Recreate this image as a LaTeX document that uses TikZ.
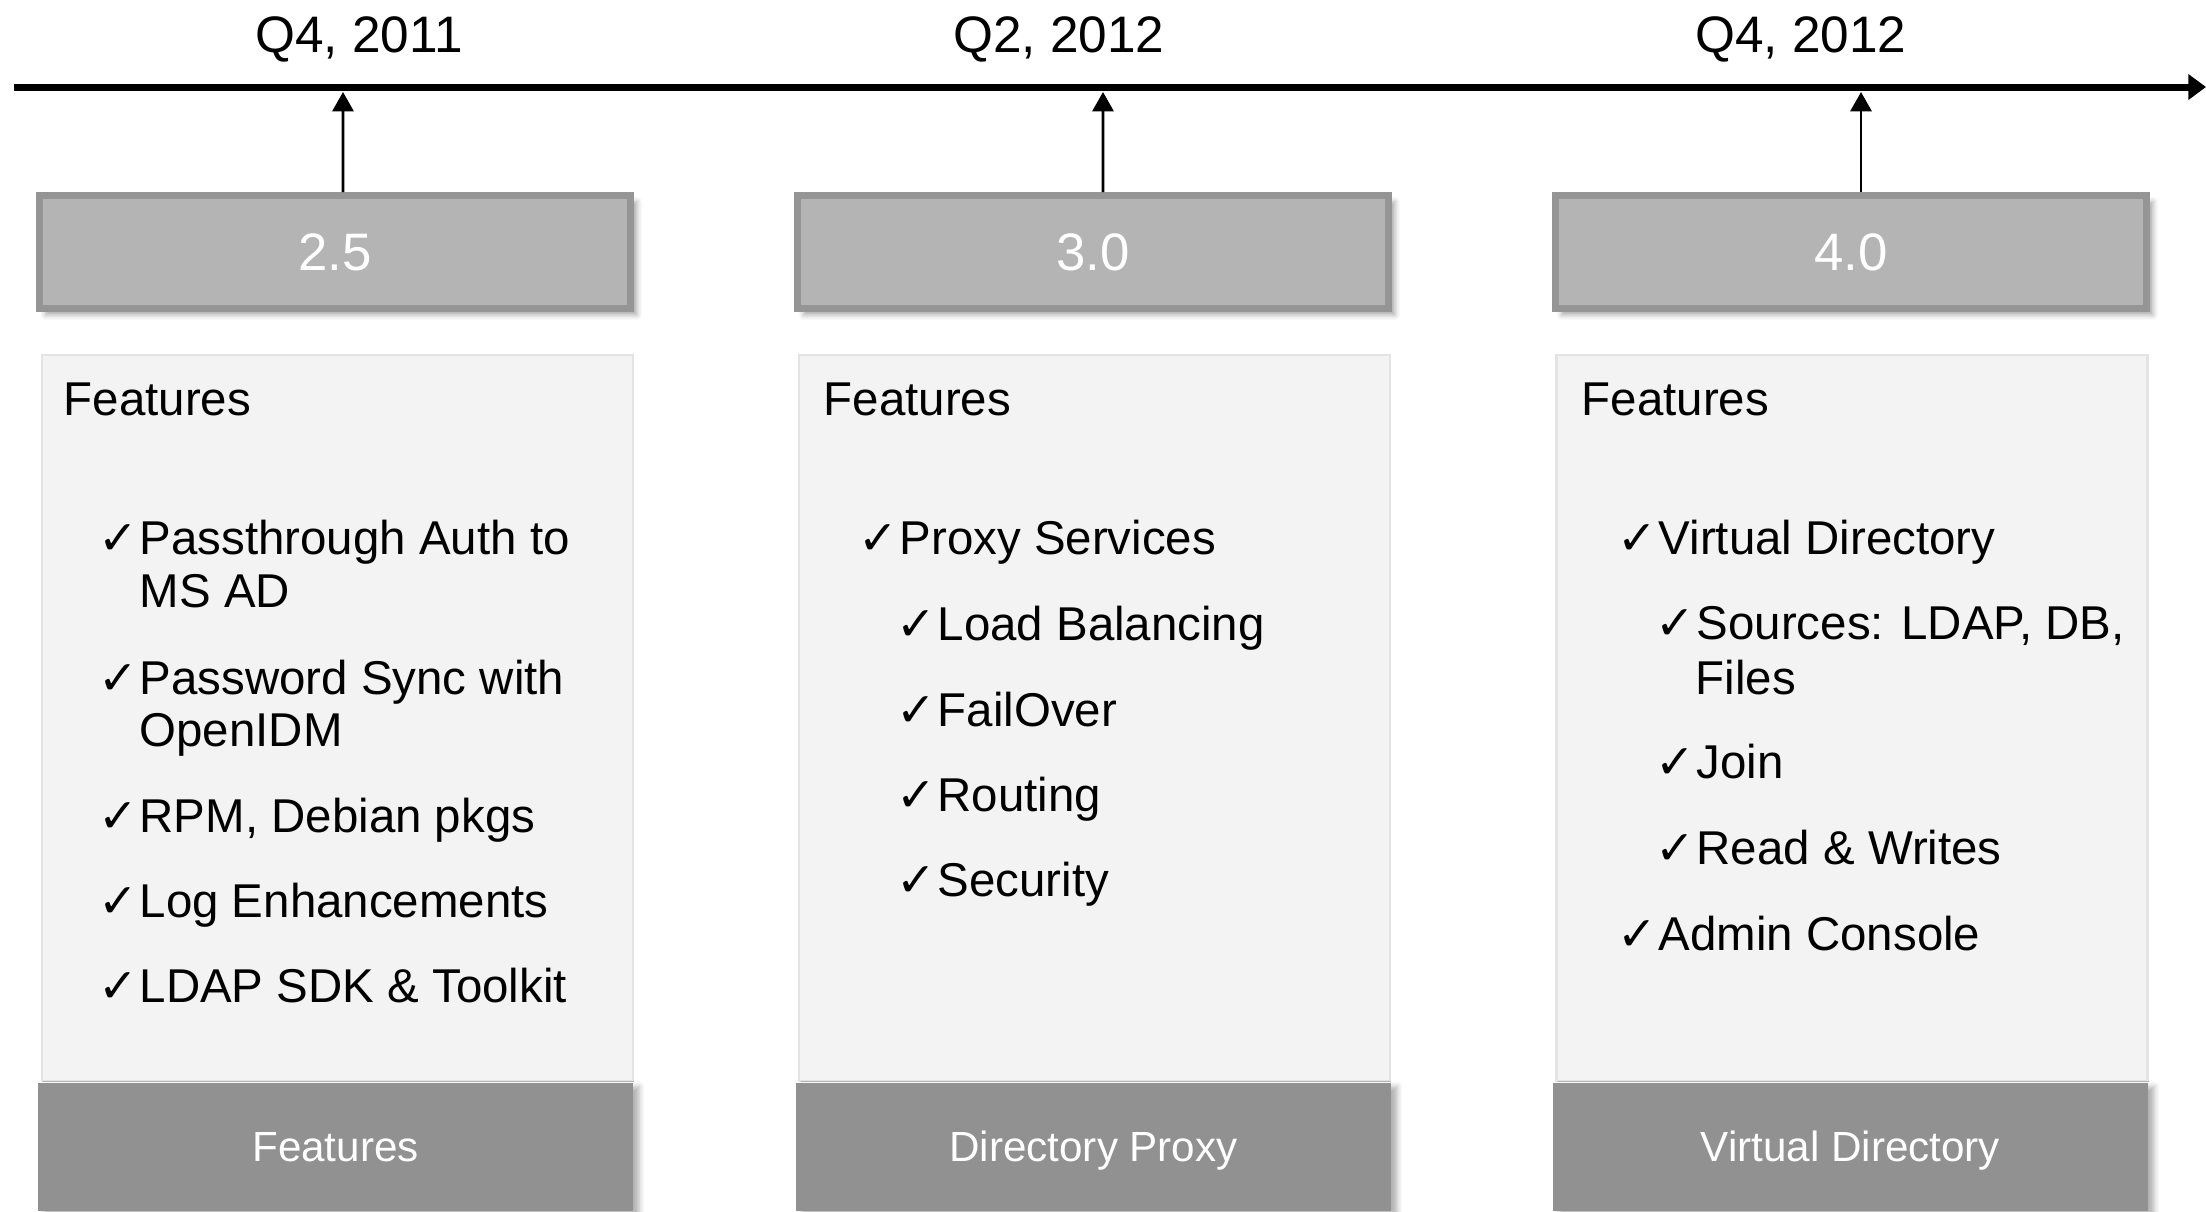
\documentclass[tikz,border=0pt]{standalone}
\usepackage{fontspec}
\setmainfont{Liberation Sans}
\newfontfamily\checkfont{DejaVu Sans}
\usetikzlibrary{arrows.meta, positioning, shadows.blur}
\definecolor{versiongray}{HTML}{B4B4B4}
\definecolor{versionedge}{HTML}{959595}
\definecolor{panelgray}{HTML}{F3F3F3}
\definecolor{paneledge}{HTML}{E3E3E3}
\definecolor{trackgray}{HTML}{919191}
\newcommand{\chk}{\makebox[0.41cm][l]{\checkfont\char"2713}}

\tikzset{
  datelabel/.style={black, font=\fontsize{14.6}{16}\selectfont},
  verbox/.style={fill=versiongray, draw=versionedge, line width=2pt, minimum width=5.91cm, minimum height=1.13cm,
    text=white, font=\fontsize{15}{17}\selectfont,
    blur shadow={shadow xshift=1.8pt, shadow yshift=-1.8pt, shadow blur radius=1.5pt, shadow opacity=35}},
  panel/.style={fill=panelgray, draw=paneledge, line width=0.8pt, minimum width=5.91cm, minimum height=7.26cm},
  trackbox/.style={fill=trackgray, minimum width=5.95cm, minimum height=1.28cm, text=white,
    font=\fontsize{12}{14}\selectfont, text height=1.0em, text depth=0.2em,
    blur shadow={shadow xshift=1.8pt, shadow yshift=-1pt, shadow blur radius=1.5pt, shadow opacity=30}},
  item/.style={anchor=base west, inner sep=0pt, font=\fontsize{13.5}{16}\selectfont},
  linkarrow/.style={line width=0.8pt, -{Triangle[length=5.5pt, width=6pt]}}
}

\begin{document}
\begin{tikzpicture}
  \useasboundingbox (0,0) rectangle (22.06,-12.11);

  % time axis
  \coordinate (axisstart) at (0.14,-0.87);
  \coordinate (axisend) at (22.06,-0.87);
  \draw[line width=2pt, -{Triangle[length=5pt, width=7pt]}] (axisstart) -- (axisend);

  \node[datelabel] (d1) at (3.59,-0.39) {Q4, 2011};
  \node[datelabel] (d2) at (10.59,-0.39) {Q2, 2012};
  \node[datelabel] (d3) at (18.01,-0.39) {Q4, 2012};

  % release boxes
  \node[verbox] (v25) at (3.35,-2.52) {2.5};
  \node[verbox] (v30) at (10.93,-2.52) {3.0};
  \node[verbox] (v40) at (18.51,-2.52) {4.0};

  \coordinate (t1) at (3.43,-0.92);
  \coordinate (t2) at (11.03,-0.92);
  \coordinate (t3) at (18.61,-0.92);
  \draw[linkarrow] ([xshift=0.08cm]v25.north) -- (t1);
  \draw[linkarrow] ([xshift=0.1cm]v30.north) -- (t2);
  \draw[linkarrow] ([xshift=0.1cm]v40.north) -- (t3);

  % feature panels
  \node[panel] (p1) at (3.375,-7.18) {};
  \node[panel] (p2) at (10.945,-7.18) {};
  \node[panel] (p3) at (18.52,-7.18) {};

  \node[item] (h1) at (0.63,-4.15) {Features};
  \node[item] (h2) at (8.23,-4.15) {Features};
  \node[item] (h3) at (15.81,-4.15) {Features};

  % feature lists
  \foreach \n/\x/\y/\t in {
    a1/0.98/5.54/{\chk Passthrough Auth to},
    a2/1.39/6.07/{MS AD},
    a3/0.98/6.94/{\chk Password Sync with},
    a4/1.39/7.46/{OpenIDM},
    a5/0.98/8.32/{\chk RPM, Debian pkgs},
    a6/0.98/9.17/{\chk Log Enhancements},
    a7/0.98/10.02/{\chk LDAP SDK \& Toolkit},
    b1/8.58/5.54/{\chk Proxy Services},
    b2/8.96/6.40/{\chk Load Balancing},
    b3/8.96/7.26/{\chk FailOver},
    b4/8.96/8.11/{\chk Routing},
    b5/8.96/8.96/{\chk Security},
    c1/16.17/5.54/{\chk Virtual Directory},
    c2/16.55/6.39/{\chk Sources: LDAP, DB,},
    c3/16.95/6.94/{Files},
    c4/16.55/7.78/{\chk Join},
    c5/16.55/8.64/{\chk Read \& Writes},
    c6/16.17/9.50/{\chk Admin Console}} {
    \node[item] (\n) at (\x,-\y) {\t};
  }

  % product tracks
  \node[trackbox] (k1) at (3.355,-11.47) {Features};
  \node[trackbox] (k2) at (10.935,-11.47) {Directory Proxy};
  \node[trackbox] (k3) at (18.505,-11.47) {Virtual Directory};
\end{tikzpicture}
\end{document}
